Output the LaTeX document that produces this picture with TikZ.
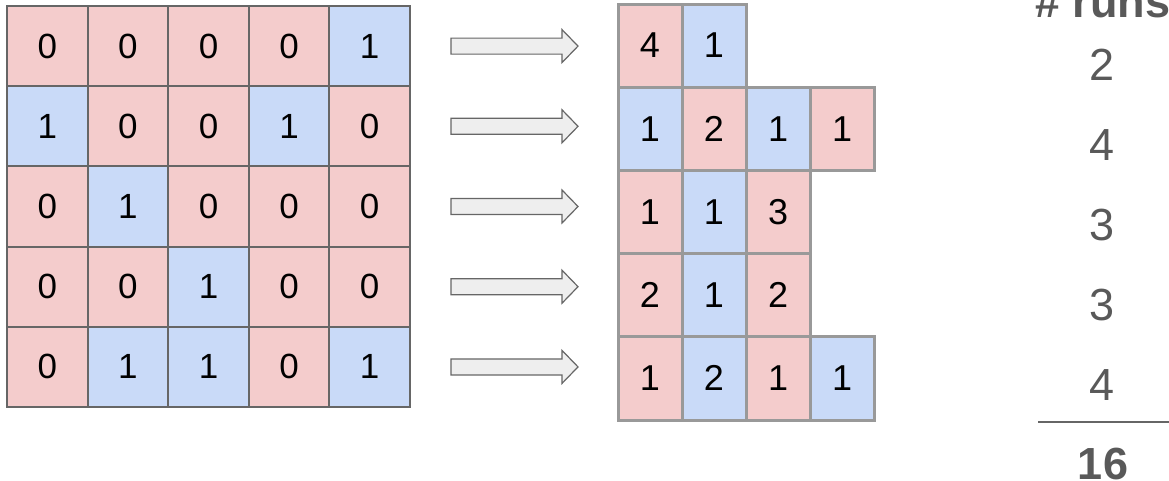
\documentclass[tikz,border=0pt]{standalone}
\usepackage{fontspec}
\setmainfont{Liberation Sans}
\definecolor{cellred}{HTML}{F4CCCC}
\definecolor{cellblue}{HTML}{C9DAF8}
\definecolor{gridedge}{HTML}{666666}
\definecolor{runedge}{HTML}{999999}
\definecolor{arrowfill}{HTML}{EEEEEE}
\definecolor{counttext}{HTML}{595959}
\tikzset{
  b0/.style={fill=cellred},
  b1/.style={fill=cellblue},
  bitcell/.style={draw=gridedge, line width=2pt, minimum width=80.6pt,
    minimum height=80.2pt, inner sep=0pt, font=\fontsize{35}{40}\selectfont},
  runcell/.style={draw=runedge, line width=3pt, minimum width=64pt,
    minimum height=83.2pt, inner sep=0pt, font=\fontsize{36}{40}\selectfont},
  blockarrow/.style={draw=gridedge, fill=arrowfill, line width=1.2pt, line join=miter},
  runcount/.style={text=counttext, inner sep=0pt, font=\fontsize{45}{50}\selectfont},
  sumrule/.style={draw=gridedge, line width=1.5pt},
}
\begin{document}
\begin{tikzpicture}[x=1pt, y=-1pt]
  \useasboundingbox (0,0) rectangle (1169,480);

  % bit matrix
  \foreach \bits [count=\r from 0] in {{0,0,0,0,1},{1,0,0,1,0},{0,1,0,0,0},{0,0,1,0,0},{0,1,1,0,1}}
    \foreach \v [count=\c from 0] in \bits
      \node[bitcell, b\v] (L-\r-\c) at (47.3+80.6*\c, 46.1+80.2*\r) {\v};

  % block arrows, one per row
  \foreach \r in {0,...,4} {
    \pgfmathsetmacro{\yc}{46.1+80.2*\r}
    \draw[blockarrow] (451,\yc-8) -- (562,\yc-8) -- (562,\yc-16.5) -- (578,\yc)
      -- (562,\yc+16.5) -- (562,\yc+8) -- (451,\yc+8) -- cycle;
  }

  % run lengths of each row
  \foreach \runs [count=\r from 0] in {{4/0,1/1},{1/1,2/0,1/1,1/0},{1/0,1/1,3/0},{2/0,1/1,2/0},{1/0,2/1,1/0,1/1}}
    \foreach \n/\b [count=\c from 0] in \runs
      \node[runcell, b\b] (R-\r-\c) at (650+64*\c, 45.6+83.2*\r) {\n};

  % number of runs per row and total
  \node[runcount, font=\fontsize{45}{50}\selectfont\bfseries, anchor=base west] (head) at (1035,17) {\# runs};
  \foreach \n [count=\r from 0] in {2,4,3,3,4}
    \node[runcount] (N-\r) at (1102, 65+80*\r) {\n};
  \coordinate (sumL) at (1038,422);
  \coordinate (sumR) at (1169,422);
  \draw[sumrule] (sumL) -- (sumR);
  \node[runcount, font=\fontsize{45}{50}\selectfont\bfseries] (total) at (1103,464) {16};
\end{tikzpicture}
\end{document}
